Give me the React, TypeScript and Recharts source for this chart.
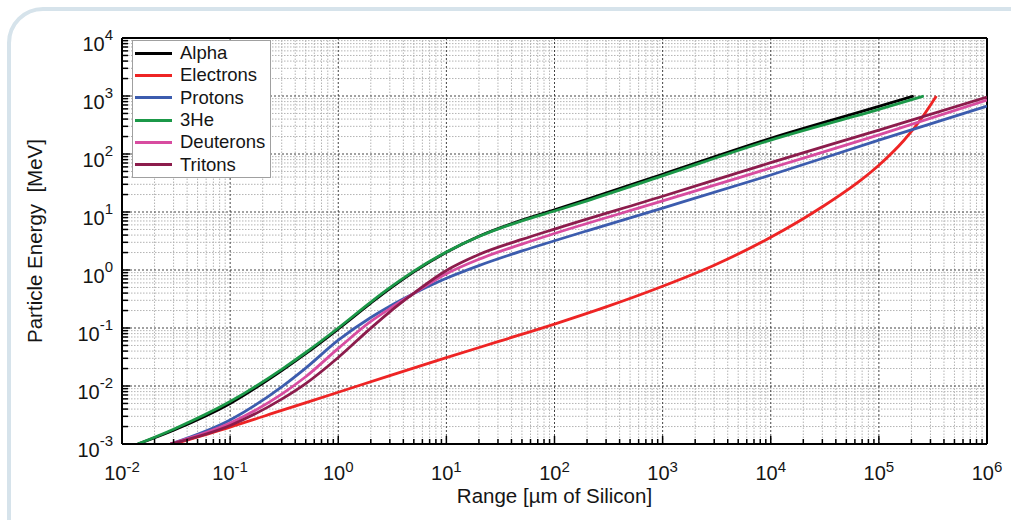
import React from "react";
import { LineChart, Line, XAxis, YAxis, ReferenceLine, Legend, Label } from "recharts";

// Range in µm of silicon, energy in MeV
const alphaRange = [0.014, 0.03, 0.1, 0.3, 0.5, 1, 2, 3, 5, 10, 20, 50, 100, 200, 1000, 1e4, 1e5, 2.1e5];
const alphaEnergy = [0.001, 0.00173, 0.005, 0.0185, 0.0361, 0.0964, 0.268, 0.477, 0.929, 2.02, 3.82, 7.26, 10.9, 16.5, 44.7, 186, 661, 1000];

const electronRange = [0.03, 0.1, 0.3, 1, 3, 10, 30, 100, 300, 1000, 3000, 1e4, 3e4, 7e4, 1e5, 1.7e5, 2.4e5, 3.4e5];
const electronEnergy = [0.001, 0.00196, 0.00379, 0.00781, 0.0151, 0.0308, 0.0582, 0.117, 0.231, 0.525, 1.21, 3.66, 12.3, 36.9, 64.1, 171, 378, 1000];

const protonRange = [0.028, 0.1, 0.3, 0.5, 1, 2, 3, 4.5, 10, 20, 50, 100, 200, 1000, 1e4, 1e5, 1e6];
const protonEnergy = [0.001, 0.0026, 0.0097, 0.0204, 0.0618, 0.152, 0.238, 0.356, 0.72, 1.19, 2.13, 3.19, 4.74, 11.7, 43.4, 173, 671];

const he3Range = [0.014, 0.03, 0.1, 0.3, 0.5, 1, 2, 3, 5, 10, 20, 50, 100, 200, 1000, 1e4, 1e5, 2.6e5];
const he3Energy = [0.001, 0.0018, 0.0054, 0.0194, 0.0378, 0.1, 0.28, 0.495, 0.955, 2.05, 3.78, 7.05, 10.4, 15.6, 42, 174, 590, 1000];

const deuteronRange = [0.028, 0.1, 0.3, 0.5, 1, 2, 3, 4.5, 10, 20, 50, 100, 1000, 1e4, 1e5, 1e6];
const deuteronEnergy = [0.001, 0.00229, 0.00724, 0.01445, 0.0445, 0.13, 0.216, 0.349, 0.86, 1.53, 2.8, 4.26, 15.5, 57.4, 213, 849];

const tritonRange = [0.028, 0.1, 0.3, 0.5, 1, 2, 3, 4.5, 10, 20, 50, 100, 1000, 1e4, 1e5, 1e6];
const tritonEnergy = [0.001, 0.00209, 0.00594, 0.011, 0.031, 0.0995, 0.19, 0.343, 0.98, 1.85, 3.37, 5.08, 18.7, 71, 258, 962];

// axis decades (exponents) and the minor steps inside each decade
const xDecades = [-2, -1, 0, 1, 2, 3, 4, 5, 6];
const yDecades = [-3, -2, -1, 0, 1, 2, 3, 4];
const minorSteps = [2, 3, 4, 5, 6, 7, 8, 9];

const FONT = "'Liberation Sans', Arial, sans-serif";

const toPoints = (range: number[], energy: number[]) =>
  range.map((r, i) => ({ r, e: energy[i] }));

const series = [
  { name: "Alpha", color: "#000000", data: toPoints(alphaRange, alphaEnergy) },
  { name: "Electrons", color: "#ee2424", data: toPoints(electronRange, electronEnergy) },
  { name: "Protons", color: "#3c5cae", data: toPoints(protonRange, protonEnergy) },
  { name: "3He", color: "#1b9848", data: toPoints(he3Range, he3Energy) },
  { name: "Deuterons", color: "#d84ca0", data: toPoints(deuteronRange, deuteronEnergy) },
  { name: "Tritons", color: "#8c1c4c", data: toPoints(tritonRange, tritonEnergy) },
];

const majors = (decades: number[]) => decades.map((d) => Math.pow(10, d));
const minors = (decades: number[]) =>
  decades.slice(0, -1).flatMap((d) => minorSteps.map((m) => m * Math.pow(10, d)));

const xMajor = majors(xDecades);
const xMinor = minors(xDecades);
const yMajor = majors(yDecades);
const yMinor = minors(yDecades);
const xTicks = [...xMajor, ...xMinor].sort((a, b) => a - b);
const yTicks = [...yMajor, ...yMinor].sort((a, b) => a - b);

const isMajor = (v: number) => Math.abs(Math.log10(v) - Math.round(Math.log10(v))) < 1e-6;

function XTick(props: any) {
  const { x, y, payload } = props;
  const v = payload.value;
  const major = isMajor(v);
  return (
    <g>
      <line x1={x} x2={x} y1={y} y2={y - (major ? 8 : 5)} stroke="#000" strokeWidth={1.5} />
      {major && (
        <text x={x} y={y + 36} textAnchor="middle" fontSize={20} fontFamily={FONT} fill="#151515">
          10
          <tspan dy={-8.5} fontSize={15}>
            {Math.round(Math.log10(v))}
          </tspan>
        </text>
      )}
    </g>
  );
}

function YTick(props: any) {
  const { x, y, payload } = props;
  const v = payload.value;
  const major = isMajor(v);
  return (
    <g>
      <line x1={x} x2={x + (major ? 8 : 6)} y1={y} y2={y} stroke="#000" strokeWidth={1.5} />
      {major && (
        <text x={x - 9} y={y + 12.5} textAnchor="end" fontSize={20} fontFamily={FONT} fill="#151515">
          10
          <tspan dy={-10.5} fontSize={15}>
            {Math.round(Math.log10(v))}
          </tspan>
        </text>
      )}
    </g>
  );
}

function LegendBox() {
  return (
    <div
      style={{
        boxSizing: "border-box",
        width: 139,
        border: "1px solid #a0a0a0",
        background: "#fff",
        padding: "1px 0 1px 2px",
        fontFamily: FONT,
        fontSize: 18.5,
        color: "#151515",
      }}
    >
      {series.map((s) => (
        <div key={s.name} style={{ display: "flex", alignItems: "center", height: 22.3 }}>
          <span style={{ width: 37, height: 3, background: s.color, marginRight: 8 }} />
          <span style={{ lineHeight: "22px" }}>{s.name}</span>
        </div>
      ))}
    </div>
  );
}

export default function App() {
  return (
    <div
      style={{
        position: "absolute",
        left: 0,
        top: 0,
        width: 1011,
        height: 520,
        overflow: "hidden",
        background: "#fff",
      }}
    >
      <div
        style={{
          position: "absolute",
          left: 7,
          top: 7,
          width: 1040,
          height: 540,
          border: "4px solid #d6e3eb",
          borderRadius: 36,
        }}
      />
      <div style={{ position: "absolute", left: 0, top: 0 }}>
        <LineChart width={1011} height={520} margin={{ top: 38, right: 24, left: 32, bottom: 16 }}>
          {xMinor.map((v) => (
            <ReferenceLine key={"xm" + v} x={v} stroke="#b4b4b4" strokeDasharray="1.5 1.5" />
          ))}
          {yMinor.map((v) => (
            <ReferenceLine key={"ym" + v} y={v} stroke="#b4b4b4" strokeDasharray="1.5 1.5" />
          ))}
          {xMajor.map((v) => (
            <ReferenceLine key={"xM" + v} x={v} stroke="#444" strokeDasharray="2 2" />
          ))}
          {yMajor.map((v) => (
            <ReferenceLine key={"yM" + v} y={v} stroke="#444" strokeDasharray="2 2" />
          ))}
          <XAxis
            dataKey="r"
            type="number"
            scale="log"
            domain={[0.01, 1e6]}
            allowDataOverflow
            ticks={xTicks}
            interval={0}
            tickSize={0}
            tickMargin={0}
            tickLine={false}
            tick={(p: any) => <XTick {...p} />}
            height={60}
            axisLine={{ stroke: "#000", strokeWidth: 2 }}
          >
            <Label
              content={(p: any) => {
                const vb = p.viewBox;
                return (
                  <text
                    x={vb.x + vb.width / 2}
                    y={vb.y + vb.height - 1}
                    textAnchor="middle"
                    fontSize={20.5}
                    fontFamily={FONT}
                    fill="#151515"
                  >
                    Range [µm of Silicon]
                  </text>
                );
              }}
            />
          </XAxis>
          <YAxis
            dataKey="e"
            type="number"
            scale="log"
            domain={[0.001, 1e4]}
            allowDataOverflow
            ticks={yTicks}
            interval={0}
            tickSize={0}
            tickMargin={0}
            tickLine={false}
            tick={(p: any) => <YTick {...p} />}
            width={90}
            axisLine={{ stroke: "#000", strokeWidth: 2 }}
          >
            <Label
              content={(p: any) => {
                const vb = p.viewBox;
                const cx = vb.x + 10;
                const cy = vb.y + vb.height / 2;
                return (
                  <text
                    x={cx}
                    y={cy}
                    transform={`rotate(-90, ${cx}, ${cy})`}
                    textAnchor="middle"
                    fontSize={20.5}
                    fontFamily={FONT}
                    fill="#151515"
                    style={{ whiteSpace: "pre" }}
                  >
                    {"Particle Energy  [MeV]"}
                  </text>
                );
              }}
            />
          </YAxis>
          <ReferenceLine y={1e4} stroke="#000" strokeWidth={2} />
          <ReferenceLine x={1e6} stroke="#000" strokeWidth={2} />
          {series.map((s) => (
            <Line
              key={s.name}
              data={s.data}
              dataKey="e"
              name={s.name}
              type="monotone"
              stroke={s.color}
              strokeWidth={2.8}
              dot={false}
              activeDot={false}
              isAnimationActive={false}
            />
          ))}
          <Legend
            layout="vertical"
            align="center"
            verticalAlign="middle"
            content={() => <LegendBox />}
            wrapperStyle={{ left: 132, top: 40, width: "auto", height: "auto" }}
          />
        </LineChart>
      </div>
    </div>
  );
}
